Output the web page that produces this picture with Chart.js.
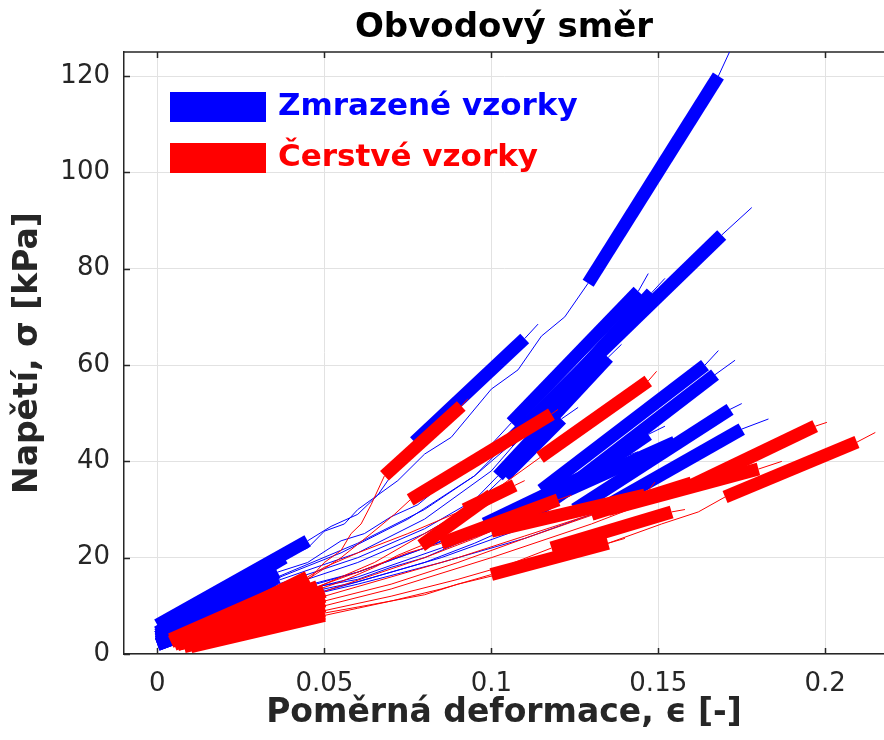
<!DOCTYPE html>
<html>
<head>
<meta charset="utf-8">
<script src="https://cdn.jsdelivr.net/npm/chart.js@4/dist/chart.umd.min.js"></script>
<style>
  html, body { margin: 0; padding: 0; background: #fff; overflow: hidden; }
  #wrap { width: 884px; height: 740px; position: relative; }
</style>
</head>
<body>
<div id="wrap"><canvas id="stressChart"></canvas></div>
<script>
// strain [-] and stress [kPa] of each specimen, one inner array per curve
const frozenStrain = [
  [0, 0.045, 0.052, 0.06, 0.066, 0.072, 0.08, 0.088, 0.1, 0.108, 0.115, 0.122, 0.129, 0.168, 0.172],
  [0, 0.038, 0.045, 0.05, 0.056, 0.06, 0.066, 0.07, 0.077, 0.11, 0.114],
  [0, 0.036, 0.045, 0.055, 0.062, 0.07, 0.078, 0.085, 0.092, 0.098, 0.106, 0.144, 0.147],
  [0, 0.035, 0.055, 0.075, 0.095, 0.11, 0.12, 0.169, 0.178],
  [0, 0.035, 0.06, 0.08, 0.1, 0.11, 0.148, 0.152],
  [0, 0.034, 0.06, 0.08, 0.095, 0.102, 0.135, 0.139],
  [0, 0.034, 0.06, 0.08, 0.095, 0.104, 0.121, 0.126],
  [0, 0.035, 0.06, 0.08, 0.1, 0.115, 0.164, 0.168],
  [0, 0.034, 0.06, 0.085, 0.105, 0.12, 0.167, 0.173],
  [0, 0.033, 0.06, 0.085, 0.105, 0.125, 0.1715, 0.175],
  [0, 0.032, 0.06, 0.085, 0.11, 0.13, 0.175, 0.183],
  [0, 0.03, 0.055, 0.08, 0.095, 0.108, 0.147, 0.152],
  [0, 0.035, 0.06, 0.08, 0.095, 0.098, 0.14, 0.144],
  [0, 0.036, 0.06, 0.08, 0.095, 0.105, 0.14, 0.143],
  [0, 0.032, 0.048, 0.06, 0.07, 0.08, 0.09, 0.1, 0.11, 0.155, 0.16]
];
const frozenStress = [
  [6, 23.5, 26.5, 29, 33, 36, 41.5, 45, 55, 59, 66, 70, 77, 120, 126],
  [4.5, 20, 22, 25.5, 27, 30, 33, 37, 44, 65.5, 68.5],
  [4, 17, 19, 23.5, 25, 28.5, 31, 35, 38, 42, 48, 75.3, 79],
  [3.5, 15.5, 21, 28, 37, 46, 54, 87, 92.7],
  [3.5, 15, 21, 28, 38, 46, 75, 78],
  [3, 14, 20, 26, 32, 37, 61.6, 64.3],
  [3, 13, 19, 25, 31, 37, 48.8, 51.2],
  [2.5, 12.5, 17, 22, 28, 34, 60, 63],
  [2.5, 11.5, 16, 22, 28, 33, 58, 61],
  [2, 11, 15, 20, 25, 30, 50.8, 52],
  [2, 10, 14.5, 19, 24, 29, 46.7, 48.8],
  [2, 9.5, 14, 19, 23, 27, 45.6, 47.3],
  [2.5, 12, 17, 22, 26, 27, 41, 42],
  [3.5, 16, 23, 30, 37, 44, 68, 70],
  [2, 10.5, 14, 15.5, 18, 20, 23, 25.5, 30, 44, 45.5]
];
const freshStrain = [
  [0.004, 0.04, 0.046, 0.05, 0.055, 0.058, 0.061, 0.064, 0.068, 0.091, 0.093],
  [0.004, 0.045, 0.055, 0.064, 0.071, 0.0757, 0.118, 0.12],
  [0.005, 0.045, 0.065, 0.08, 0.095, 0.105, 0.1146, 0.147, 0.1495],
  [0.005, 0.042, 0.055, 0.065, 0.072, 0.079, 0.1, 0.104],
  [0.01, 0.05, 0.06, 0.07, 0.08, 0.09, 0.105, 0.12, 0.135, 0.151, 0.162, 0.17, 0.2095, 0.215],
  [0.008, 0.05, 0.07, 0.1, 0.13, 0.16, 0.197, 0.2005],
  [0.006, 0.05, 0.07, 0.09, 0.11, 0.135, 0.18, 0.187],
  [0.006, 0.05, 0.07, 0.09, 0.105, 0.118, 0.154, 0.158],
  [0.008, 0.05, 0.07, 0.085, 0.1, 0.135, 0.14],
  [0.006, 0.05, 0.07, 0.09, 0.11, 0.13, 0.16, 0.165],
  [0.005, 0.048, 0.06, 0.075, 0.085, 0.12, 0.124],
  [0.006, 0.05, 0.065, 0.08, 0.095, 0.1, 0.146, 0.149],
  [0.006, 0.045, 0.05, 0.06, 0.075, 0.092, 0.107, 0.11]
];
const freshStress = [
  [3, 14, 16, 19, 21.5, 25, 27, 31, 37, 51.5, 53],
  [2.5, 15.5, 20, 25, 29, 32, 49.8, 50.8],
  [2.5, 13, 19, 25, 31, 36, 40.8, 56.7, 58.7],
  [2, 12, 15, 18, 20.5, 22.5, 33, 34],
  [1.5, 8, 9.5, 11, 12.3, 14.5, 17, 20, 23, 27, 29.5, 32.6, 44, 46],
  [2, 10, 13.5, 20, 27, 35, 47.3, 48.1],
  [2, 11, 14.5, 19, 24, 30, 38.4, 40],
  [2, 9, 12, 15.5, 18.5, 22, 29.5, 30],
  [1.5, 8.5, 11, 13.5, 16.5, 23, 24],
  [2.5, 12, 16, 20, 24.5, 29, 35.5, 36.5],
  [2.5, 14, 17, 21, 23, 32, 33],
  [2, 13, 16.5, 20, 24, 25.5, 33, 35.7],
  [2.5, 16, 18, 21, 25, 30, 35, 36]
];
const groupNames = ['Zmrazené vzorky', 'Čerstvé vzorky'];
const groupColors = ['#0000ff', '#ff0000'];
const xTicks = [0, 0.05, 0.1, 0.15, 0.2];
const yTicks = [0, 20, 40, 60, 80, 100, 120];

const axisColor = '#262626';
const thickWidth = 13;

Chart.defaults.font.family = '"DejaVu Sans", sans-serif';

// first segment and the last-but-one segment are the fitted (thick) parts
function buildSeries(strains, stresses, color) {
  return strains.map((xs, k) => {
    const n = xs.length;
    return {
      label: color,
      data: xs.map((x, i) => ({ x: x, y: stresses[k][i] })),
      borderColor: color,
      borderWidth: 1,
      pointRadius: 0,
      tension: 0,
      borderCapStyle: 'butt',
      borderJoinStyle: 'round',
      segment: {
        borderWidth: c => (c.p0DataIndex === 0 || c.p0DataIndex === n - 3) ? thickWidth : 1
      }
    };
  });
}

const datasets = buildSeries(freshStrain, freshStress, groupColors[1])
  .concat(buildSeries(frozenStrain, frozenStress, groupColors[0]));

const legendBox = {
  id: 'legendBox',
  afterDraw(chart) {
    const { ctx, chartArea } = chart;
    ctx.save();
    ctx.font = 'bold 31px "DejaVu Sans"';
    ctx.textBaseline = 'alphabetic';
    groupNames.forEach((name, i) => {
      const top = chartArea.top + 40 + i * 51;
      ctx.fillStyle = groupColors[i];
      ctx.fillRect(chartArea.left + 46, top, 96, 30);
      ctx.fillText(name, chartArea.left + 154, top + 23);
    });
    ctx.restore();
  }
};

// top edge of the box and inward tick marks
const axisBox = {
  id: 'axisBox',
  beforeDatasetsDraw(chart) {
    const { ctx, chartArea, scales } = chart;
    ctx.save();
    ctx.strokeStyle = axisColor;
    ctx.lineWidth = 1.5;
    ctx.beginPath();
    ctx.moveTo(chartArea.left, chartArea.top);
    ctx.lineTo(chartArea.right, chartArea.top);
    xTicks.forEach(v => {
      const px = Math.round(scales.x.getPixelForValue(v)) + 0.5;
      ctx.moveTo(px, chartArea.bottom);
      ctx.lineTo(px, chartArea.bottom - 6);
      ctx.moveTo(px, chartArea.top);
      ctx.lineTo(px, chartArea.top + 6);
    });
    yTicks.forEach(v => {
      const py = Math.round(scales.y.getPixelForValue(v)) + 0.5;
      ctx.moveTo(chartArea.left, py);
      ctx.lineTo(chartArea.left + 6, py);
    });
    ctx.stroke();
    ctx.restore();
  }
};

new Chart(document.getElementById('stressChart'), {
  type: 'line',
  data: { datasets: datasets },
  options: {
    responsive: true,
    maintainAspectRatio: false,
    animation: false,
    events: [],
    layout: { padding: 0 },
    plugins: {
      legend: { display: false },
      tooltip: { enabled: false },
      title: {
        display: true,
        text: 'Obvodový směr',
        fullSize: false,
        color: '#000',
        font: { size: 34, weight: 'bold', lineHeight: 1 },
        padding: { top: 11, bottom: 7 }
      }
    },
    scales: {
      x: {
        type: 'linear',
        min: -0.01,
        max: 0.2176,
        afterBuildTicks: s => { s.ticks = xTicks.map(v => ({ value: v })); },
        afterFit: s => { s.height = 86; },
        ticks: {
          color: axisColor,
          font: { size: 26 },
          padding: 15,
          maxRotation: 0,
          autoSkip: false,
          callback: v => String(v)
        },
        grid: { color: '#e2e2e2', drawTicks: false },
        border: { color: axisColor, width: 1.5 },
        title: {
          display: true,
          text: 'Poměrná deformace, ϵ [-]',
          color: axisColor,
          font: { size: 33, weight: 'bold', lineHeight: 1 },
          padding: { top: 0, bottom: 10 }
        }
      },
      y: {
        type: 'linear',
        min: 0,
        max: 125,
        afterBuildTicks: s => { s.ticks = yTicks.map(v => ({ value: v })); },
        afterFit: s => { s.width = 124; },
        ticks: {
          color: axisColor,
          font: { size: 26 },
          padding: 14,
          autoSkip: false,
          callback: v => String(v)
        },
        grid: { color: '#e2e2e2', drawTicks: false },
        border: { color: axisColor, width: 1.5 },
        title: {
          display: true,
          text: 'Napětí, σ [kPa]',
          color: axisColor,
          font: { size: 33, weight: 'bold', lineHeight: 1 },
          padding: { top: 12, bottom: 0 }
        }
      }
    }
  },
  plugins: [axisBox, legendBox]
});
</script>
</body>
</html>
